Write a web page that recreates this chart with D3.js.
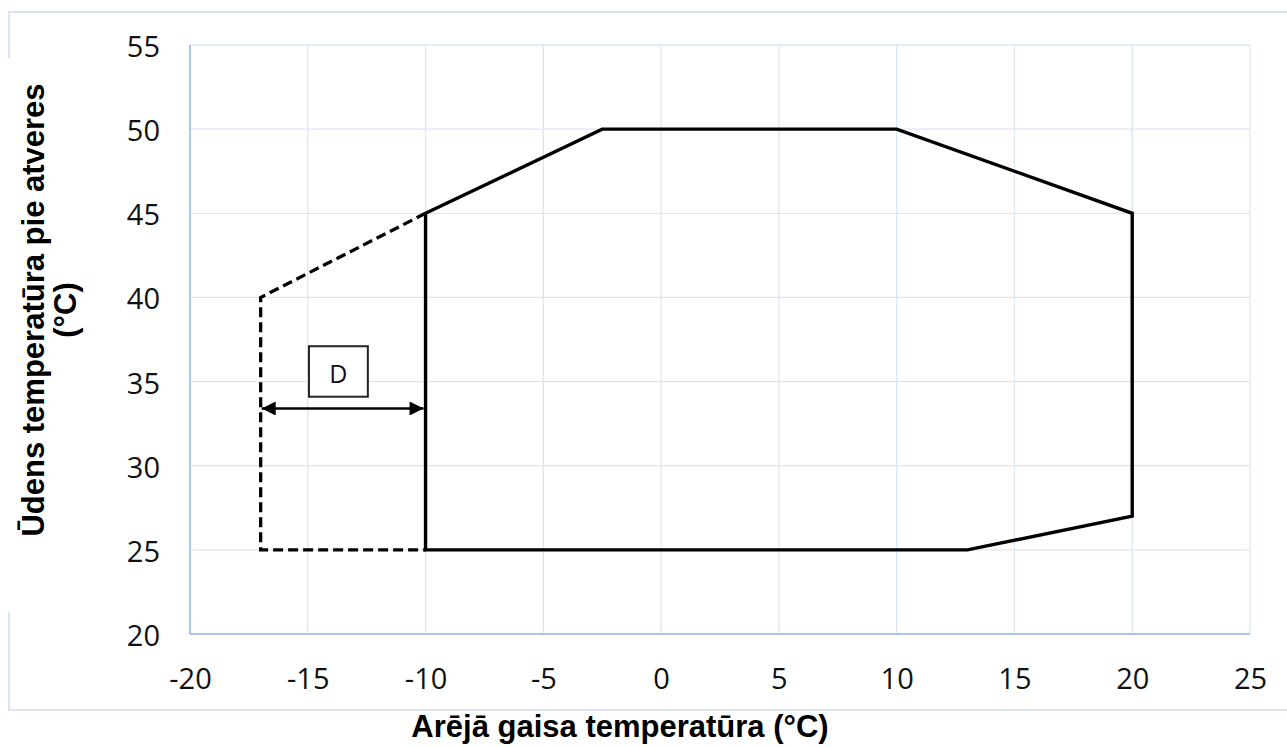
<!DOCTYPE html>
<html>
<head>
<meta charset="utf-8">
<script src="https://cdn.jsdelivr.net/npm/d3@7"></script>
<style>
  html, body { margin: 0; padding: 0; background: #ffffff; }
  svg { display: block; }
</style>
</head>
<body>
<svg id="chart" width="1287" height="747"></svg>
<script>
// ---- data ----
const xTicks = [-20, -15, -10, -5, 0, 5, 10, 15, 20, 25];
const yTicks = [20, 25, 30, 35, 40, 45, 50, 55];
const envelopeX = [-10, -2.5, 10, 20, 20, 13, -10, -10];
const envelopeY = [45, 50, 50, 45, 27, 25, 25, 45];
const extensionX = [-10, -17, -17, -10];
const extensionY = [45, 40, 25, 25];
const arrowX = [-17, -10];
const arrowY = 33.4;
const labelText = "D";
const labelBoxX = [-14.95, -12.45];
const labelBoxY = [34.1, 37.1];
const xTitle = "Arējā gaisa temperatūra (°C)";
const yTitleLines = ["Ūdens temperatūra pie atveres", "(°C)"];

// ---- layout ----
const svg = d3.select("#chart");
const x = d3.scaleLinear().domain([-20, 25]).range([190, 1250]);
const y = d3.scaleLinear().domain([20, 55]).range([634, 45]);

const borderColor = "#d8e4f4";
const gridColor = "#dbe6f5";
const axisColor = "#8db3e3";
const tickFont = "'Open Sans', sans-serif";
const titleFont = "'Liberation Sans', Arial, sans-serif";

// outer frame
const frame = svg.append("g").attr("fill", "none").attr("stroke", borderColor).attr("stroke-width", 2);
frame.append("line").attr("x1", 9).attr("x2", 1290).attr("y1", 12).attr("y2", 12);
frame.append("line").attr("x1", 9).attr("x2", 1290).attr("y1", 710).attr("y2", 710);
frame.append("line").attr("x1", 9).attr("x2", 9).attr("y1", 11).attr("y2", 711);

// y title background (interrupts frame)
svg.append("rect").attr("x", 0).attr("y", 58).attr("width", 95).attr("height", 554).attr("fill", "#ffffff");

// gridlines
const grid = svg.append("g");
grid.selectAll("line.v").data(xTicks.slice(1)).join("line")
  .attr("x1", d => x(d)).attr("x2", d => x(d))
  .attr("y1", y(55)).attr("y2", y(20))
  .attr("stroke", gridColor).attr("stroke-width", 1.3);
grid.selectAll("line.h").data(yTicks.slice(1)).join("line")
  .attr("x1", x(-20)).attr("x2", x(25))
  .attr("y1", d => y(d)).attr("y2", d => y(d))
  .attr("stroke", gridColor).attr("stroke-width", 1.3);

// axes lines
svg.append("line").attr("x1", x(-20)).attr("x2", x(-20)).attr("y1", y(55)).attr("y2", y(20))
  .attr("stroke", axisColor).attr("stroke-width", 1.5);
svg.append("line").attr("x1", x(-20)).attr("x2", x(25)).attr("y1", y(20)).attr("y2", y(20))
  .attr("stroke", axisColor).attr("stroke-width", 1.5);

// tick labels via d3 axes (no tick marks / domain)
const xAxis = svg.append("g").attr("transform", `translate(0,${y(20)})`)
  .call(d3.axisBottom(x).tickValues(xTicks).tickSize(0).tickFormat(d => String(d)));
const yAxis = svg.append("g").attr("transform", `translate(${x(-20)},0)`)
  .call(d3.axisLeft(y).tickValues(yTicks).tickSize(0).tickPadding(30).tickFormat(d => String(d)));
[xAxis, yAxis].forEach(a => {
  a.select(".domain").remove();
  a.selectAll("text").attr("font-family", tickFont).attr("font-size", 29).attr("fill", "#111");
});
xAxis.selectAll("text").attr("dy", "0").attr("y", 43).attr("dominant-baseline", "central");
yAxis.selectAll("text").attr("dy", "0").attr("dominant-baseline", "central");

// envelope (solid)
const line = d3.line().x(d => x(d[0])).y(d => y(d[1]));
svg.append("path")
  .datum(envelopeX.map((v, i) => [v, envelopeY[i]]))
  .attr("d", line).attr("fill", "none").attr("stroke", "#000")
  .attr("stroke-width", 3.4).attr("stroke-linejoin", "miter");

// extension (dashed)
svg.append("path")
  .datum(extensionX.map((v, i) => [v, extensionY[i]]))
  .attr("d", line).attr("fill", "none").attr("stroke", "#000")
  .attr("stroke-width", 3.3).attr("stroke-dasharray", "10,5");

// arrow
const defs = svg.append("defs");
defs.append("marker").attr("id", "ah").attr("viewBox", "0 0 10 10")
  .attr("refX", 10).attr("refY", 5).attr("markerWidth", 15).attr("markerHeight", 14)
  .attr("markerUnits", "userSpaceOnUse").attr("orient", "auto-start-reverse")
  .append("path").attr("d", "M0,0 L10,5 L0,10 Z").attr("fill", "#000");
svg.append("line")
  .attr("x1", x(arrowX[0]) + 1).attr("x2", x(arrowX[1]) - 2)
  .attr("y1", y(arrowY)).attr("y2", y(arrowY))
  .attr("stroke", "#000").attr("stroke-width", 2.6)
  .attr("marker-start", "url(#ah)").attr("marker-end", "url(#ah)");

// label box
svg.append("rect")
  .attr("x", x(labelBoxX[0])).attr("y", y(labelBoxY[1]))
  .attr("width", x(labelBoxX[1]) - x(labelBoxX[0]))
  .attr("height", y(labelBoxY[0]) - y(labelBoxY[1]))
  .attr("fill", "#fff").attr("stroke", "#222").attr("stroke-width", 2);
svg.append("text")
  .attr("x", (x(labelBoxX[0]) + x(labelBoxX[1])) / 2)
  .attr("y", (y(labelBoxY[0]) + y(labelBoxY[1])) / 2 + 2)
  .attr("text-anchor", "middle").attr("dominant-baseline", "central")
  .attr("font-family", tickFont).attr("font-size", 25).attr("fill", "#111")
  .text(labelText);

// axis titles
svg.append("text")
  .attr("x", 620).attr("y", 726)
  .attr("text-anchor", "middle").attr("dominant-baseline", "central")
  .attr("font-family", titleFont).attr("font-weight", "bold").attr("font-size", 31)
  .attr("fill", "#000").text(xTitle);
const yt = svg.append("text")
  .attr("transform", "translate(0,310) rotate(-90)")
  .attr("text-anchor", "middle")
  .attr("font-family", titleFont).attr("font-weight", "bold").attr("font-size", 31)
  .attr("fill", "#000");
yt.selectAll("tspan").data(yTitleLines).join("tspan")
  .attr("x", 0).attr("y", (d, i) => 44 + i * 32)
  .text(d => d);
</script>
</body>
</html>
